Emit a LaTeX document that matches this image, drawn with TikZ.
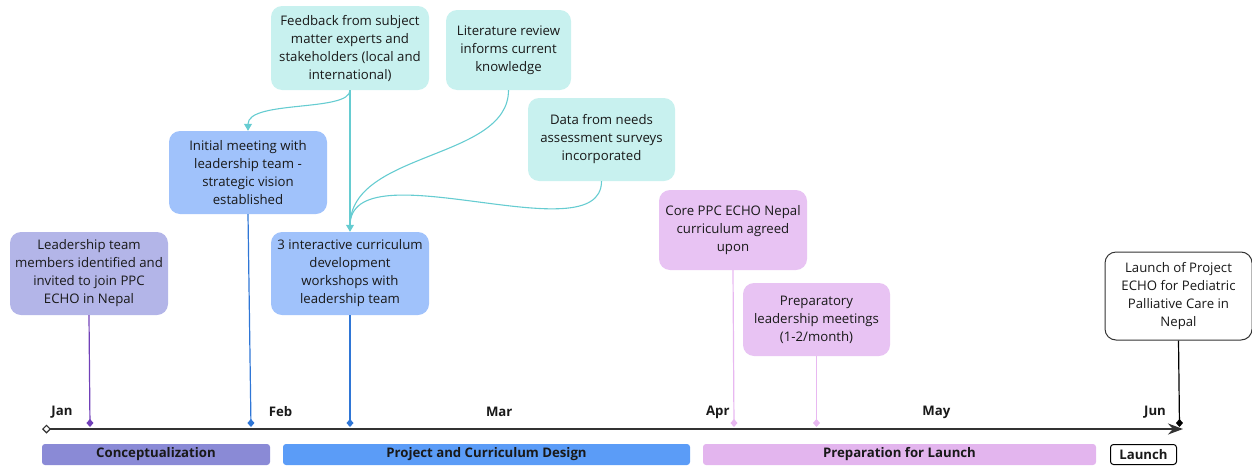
\documentclass[tikz,border=0pt]{standalone}
\usepackage{fontspec}
\setmainfont{Open Sans}
\usepackage{tikz}
\usepackage{xcolor}
\usetikzlibrary{positioning,arrows.meta,calc}
\definecolor{lavCol}{HTML}{B3B5E8}
\definecolor{lavBar}{HTML}{8A8AD6}
\definecolor{lavLine}{HTML}{7140B8}
\definecolor{bluCol}{HTML}{A0C2FB}
\definecolor{bluBar}{HTML}{5B9CF7}
\definecolor{bluLine}{HTML}{2F76D6}
\definecolor{cyaCol}{HTML}{C8F1EF}
\definecolor{cyaLine}{HTML}{66CCD1}
\definecolor{pnkCol}{HTML}{E8C3F3}
\definecolor{pnkBar}{HTML}{E3B5EE}
\definecolor{pnkLine}{HTML}{E8B8F1}
\definecolor{axCol}{HTML}{333333}

\begin{document}
\begin{tikzpicture}[
    x=1pt, y=-1pt,
    font=\fontsize{13.2}{18}\selectfont,
    box/.style={rounded corners=11pt, align=center, inner sep=2pt,
      minimum width=158pt, minimum height=83pt, text=black!90},
    bar/.style={rounded corners=3pt, minimum height=21pt, inner sep=0pt,
      font=\fontsize{13.2}{14}\selectfont\bfseries, text=black!90},
    month/.style={font=\fontsize{13.2}{14}\selectfont\bfseries, text=black!90},
    stem/.style={line width=1.2pt, -{Diamond[length=8pt,width=7pt]}},
    feed/.style={line width=1.1pt, draw=cyaLine},
  ]
\useasboundingbox (0,0) rectangle (1252,466);

% Timeline axis
\coordinate (ax0) at (42,429);
\coordinate (ax1) at (1183,429);
\draw[line width=2pt, draw=axCol, {Diamond[open,length=9pt,width=9pt,line width=1.2pt]}-{Stealth[length=15pt,width=11pt]}]
  (ax0) -- (ax1);
\foreach \m [count=\i from 0] in {Jan,Feb,Mar,Apr,May,Jun}
  \node[month] (mon\i) at (62+218.6*\i,412) {\m};

% Phases
\node[bar, fill=lavBar, minimum width=228pt] (ph1) at (156,454.5) {Conceptualization};
\node[bar, fill=bluBar, minimum width=407pt] (ph2) at (486.5,454.5) {Project and Curriculum Design};
\node[bar, fill=pnkBar, minimum width=393pt] (ph3) at (899.5,454.5) {Preparation for Launch};
\node[bar, draw=black, line width=1pt, fill=white, minimum width=66pt, minimum height=20pt] (ph4) at (1143.5,454.5) {Launch};

% Events
\node[box, fill=lavCol] (ldr) at (89,273.5)
  {Leadership team\\members identified and\\invited to join PPC\\ECHO in Nepal};
\node[box, fill=bluCol] (init) at (248,172.5)
  {Initial meeting with\\leadership team -\\strategic vision\\established};
\node[box, fill=bluCol] (ws) at (350,273.5)
  {3 interactive curriculum\\development\\workshops with\\leadership team};
\node[box, fill=cyaCol, minimum height=84pt] (fb) at (350,48)
  {Feedback from subject\\matter experts and\\stakeholders (local and\\international)};
\node[box, fill=cyaCol, minimum width=125pt, minimum height=80pt] (lit) at (508.5,50)
  {Literature review\\informs current\\knowledge};
\node[box, fill=cyaCol, minimum width=147pt] (data) at (601.5,139.5)
  {Data from needs\\assessment surveys\\incorporated};
\node[box, fill=pnkCol, minimum width=148pt, minimum height=80pt] (core) at (733,230)
  {Core PPC ECHO Nepal\\curriculum agreed\\upon};
\node[box, fill=pnkCol, minimum width=147pt, minimum height=73pt] (prep) at (816.5,319.5)
  {Preparatory\\leadership meetings\\(1-2/month)};
\node[box, fill=white, draw=black!80, line width=1pt, minimum width=147pt, minimum height=88pt] (lnch) at (1178.5,296)
  {Launch of Project\\ECHO for Pediatric\\Palliative Care in\\Nepal};

% Stems down to the axis
\draw[stem, draw=lavLine] (ldr.south) -- ($(ldr.south |- ax0)+(1,-2)$);
\draw[stem, draw=bluLine] (init.south) -- ($(init.south |- ax0)+(3,-2)$);
\draw[stem, draw=bluLine] (ws.south) -- ($(ws.south |- ax0)+(0,-2)$);
\draw[stem, draw=pnkLine] (core.south) -- ($(core.south |- ax0)+(1,-2)$);
\draw[stem, draw=pnkLine] (prep.south) -- ($(prep.south |- ax0)+(0,-2)$);
\draw[stem, draw=black] (lnch.south) -- ($(lnch.south |- ax0)+(1,-2)$);

% Inputs feeding the design work
\draw[feed, -{Triangle[length=7pt,width=8pt]}]
  (fb.south) .. controls +(0,22) and +(0,-31) .. (init.north);
\draw[feed, -{Triangle[length=7pt,width=8pt]}] (fb.south) -- (ws.north);
\draw[feed] (lit.south) .. controls +(0,70) and +(0,-75) .. ($(ws.north)+(0,-6)$);
\draw[feed] (data.south) .. controls +(0,75) and +(0,-80) .. ($(ws.north)+(0,-6)$);

\end{tikzpicture}
\end{document}
